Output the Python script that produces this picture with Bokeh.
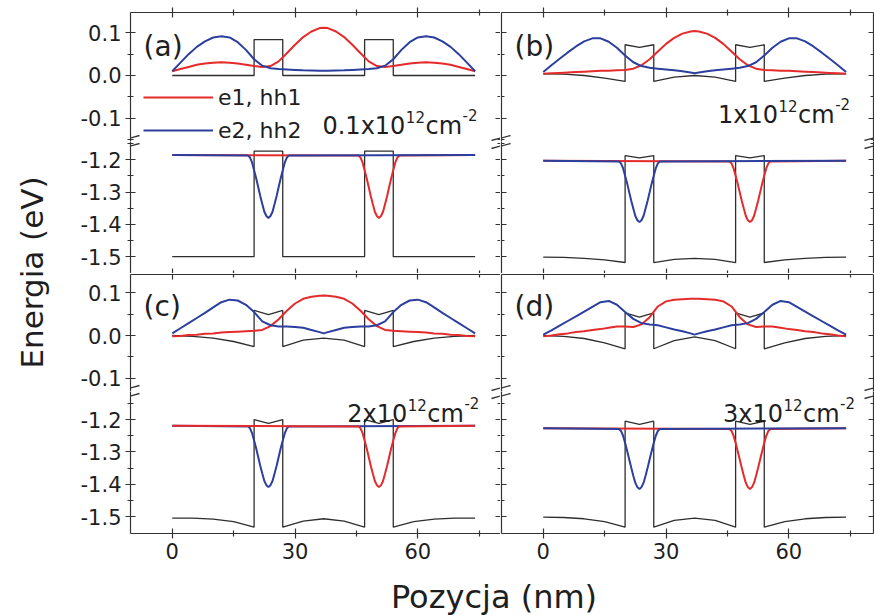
from bokeh.plotting import figure
from bokeh.models import Range1d, LinearAxis, FixedTicker, Label, Legend, LegendItem, Arrow
from bokeh.layouts import row, column
from bokeh.embed import file_html
from bokeh.resources import INLINE

# ---------------- data ----------------
X_TICKS = [0, 30, 60]
X_TICK_LABELS = ["0", "30", "60"]
X_MINOR = [15, 45, 75]
YU_TICKS = [-0.1, 0.0, 0.1]
YU_LABELS = ["-0.1", "0.0", "0.1"]
YU_MINOR = [-0.15, -0.05, 0.05]
YL_TICKS = [-1.5, -1.4, -1.3, -1.2]
YL_LABELS = ["-1.5", "-1.4", "-1.3", "-1.2"]
YL_MINOR = [-1.45, -1.35, -1.25, -1.15]

PANELS = ["(a)", "(b)", "(c)", "(d)"]
DENSITY = ["0.1x10", "1x10", "2x10", "3x10"]
LEGEND = ["e1, hh1", "e2, hh2"]

# band edges (conduction: upper part, valence: lower part)
X_BAND = [0, 5, 10, 15, 20, 20, 23.5, 27, 27, 32, 37, 42, 47, 47, 50.5, 54, 54, 59, 64, 69, 74]
CB_A = [0, 0, 0, 0, 0, 0.084, 0.084, 0.084, 0, 0, 0, 0, 0, 0.084, 0.084, 0.084, 0, 0, 0, 0, 0]
VB_A = [-1.5, -1.5, -1.5, -1.5, -1.5, -1.173, -1.173, -1.173, -1.5, -1.5, -1.5, -1.5, -1.5,
        -1.173, -1.173, -1.173, -1.5, -1.5, -1.5, -1.5, -1.5]
CB_B = [0.004, 0.003, 0.0, -0.006, -0.014, 0.072, 0.066, 0.072, -0.014, -0.004, 0.0, -0.004, -0.014,
        0.072, 0.066, 0.072, -0.014, -0.006, 0.0, 0.003, 0.004]
VB_B = [-1.501, -1.502, -1.505, -1.510, -1.518, -1.187, -1.194, -1.187, -1.518, -1.508, -1.505, -1.508,
        -1.518, -1.187, -1.194, -1.187, -1.518, -1.510, -1.505, -1.502, -1.501]
CB_C = [0.0, -0.002, -0.006, -0.014, -0.026, 0.059, 0.049, 0.059, -0.026, -0.011, -0.006, -0.011, -0.026,
        0.059, 0.049, 0.059, -0.026, -0.014, -0.006, -0.002, 0.0]
VB_C = [-1.505, -1.505, -1.508, -1.516, -1.533, -1.200, -1.212, -1.200, -1.533, -1.514, -1.507, -1.514,
        -1.533, -1.200, -1.212, -1.200, -1.533, -1.516, -1.508, -1.505, -1.505]
CB_D = [0.0, -0.002, -0.007, -0.017, -0.031, 0.053, 0.043, 0.053, -0.031, -0.012, -0.003, -0.012, -0.031,
        0.053, 0.043, 0.053, -0.031, -0.017, -0.007, -0.002, 0.0]
VB_D = [-1.502, -1.503, -1.507, -1.516, -1.533, -1.205, -1.215, -1.205, -1.533, -1.512, -1.505, -1.512,
        -1.533, -1.205, -1.215, -1.205, -1.533, -1.516, -1.507, -1.503, -1.502]

# electron wavefunctions (upper part)
X_WF = [0, 2, 4, 6, 8, 10, 12, 14, 16, 18, 20, 22, 24, 26, 28, 30, 32, 34, 36, 37,
        38, 40, 42, 44, 46, 48, 50, 52, 54, 56, 58, 60, 62, 64, 66, 68, 70, 72, 74]
E1_A = [0.010, 0.015, 0.020, 0.025, 0.028, 0.030, 0.031, 0.030, 0.028, 0.025, 0.022, 0.020, 0.022, 0.033,
        0.052, 0.072, 0.090, 0.103, 0.111, 0.112,
        0.111, 0.103, 0.090, 0.072, 0.052, 0.033, 0.022, 0.020, 0.022, 0.025, 0.028, 0.030, 0.031, 0.030,
        0.028, 0.025, 0.020, 0.015, 0.010]
E2_A = [0.010, 0.030, 0.050, 0.067, 0.080, 0.089, 0.092, 0.089, 0.078, 0.060, 0.038, 0.023, 0.017, 0.015,
        0.014, 0.013, 0.012, 0.0115, 0.011, 0.011,
        0.011, 0.0115, 0.012, 0.013, 0.014, 0.015, 0.017, 0.023, 0.038, 0.060, 0.078, 0.089, 0.092, 0.089,
        0.080, 0.067, 0.050, 0.030, 0.010]
E1_B = [0.004, 0.005, 0.006, 0.007, 0.008, 0.009, 0.010, 0.011, 0.011, 0.012, 0.013, 0.016, 0.024, 0.038,
        0.056, 0.074, 0.088, 0.098, 0.103, 0.104,
        0.103, 0.098, 0.088, 0.074, 0.056, 0.038, 0.024, 0.016, 0.013, 0.012, 0.011, 0.011, 0.010, 0.009,
        0.008, 0.007, 0.006, 0.005, 0.004]
E2_B = [0.008, 0.024, 0.039, 0.054, 0.068, 0.080, 0.087, 0.087, 0.079, 0.065, 0.047, 0.031, 0.022, 0.018,
        0.016, 0.014, 0.012, 0.010, 0.007, 0.005,
        0.007, 0.010, 0.012, 0.014, 0.016, 0.018, 0.022, 0.031, 0.047, 0.065, 0.079, 0.087, 0.087, 0.080,
        0.068, 0.054, 0.039, 0.024, 0.008]
E1_C = [-0.002, -0.001, 0.001, 0.002, 0.004, 0.005, 0.007, 0.008, 0.009, 0.010, 0.011, 0.013, 0.022, 0.038,
        0.058, 0.075, 0.086, 0.091, 0.093, 0.094,
        0.093, 0.091, 0.086, 0.075, 0.058, 0.038, 0.022, 0.013, 0.011, 0.010, 0.009, 0.008, 0.007, 0.005,
        0.004, 0.002, 0.001, -0.001, -0.002]
E2_C = [0.005, 0.017, 0.029, 0.041, 0.053, 0.066, 0.078, 0.084, 0.082, 0.072, 0.055, 0.033, 0.024, 0.021,
        0.021, 0.020, 0.018, 0.013, 0.008, 0.005,
        0.008, 0.013, 0.018, 0.020, 0.021, 0.021, 0.024, 0.033, 0.055, 0.072, 0.082, 0.084, 0.078, 0.066,
        0.053, 0.041, 0.029, 0.017, 0.005]
E1_D = [-0.002, 0.000, 0.003, 0.005, 0.008, 0.010, 0.013, 0.015, 0.018, 0.021, 0.021, 0.020, 0.026, 0.043,
        0.068, 0.080, 0.084, 0.085, 0.086, 0.086,
        0.086, 0.085, 0.084, 0.080, 0.068, 0.043, 0.026, 0.020, 0.021, 0.021, 0.018, 0.015, 0.013, 0.010,
        0.008, 0.005, 0.003, 0.000, -0.002]
E2_D = [0.002, 0.012, 0.023, 0.034, 0.045, 0.056, 0.067, 0.078, 0.081, 0.072, 0.055, 0.039, 0.029, 0.026,
        0.024, 0.019, 0.014, 0.010, 0.005, 0.002,
        0.005, 0.010, 0.014, 0.019, 0.024, 0.026, 0.029, 0.039, 0.055, 0.072, 0.081, 0.078, 0.067, 0.056,
        0.045, 0.034, 0.023, 0.012, 0.002]

# hole wavefunctions (lower part): hh2 (blue) localised in well 1, hh1 (red) in well 2
X_HH2 = [0, 18.5, 19, 19.5, 20, 20.5, 21, 21.5, 22, 22.5, 23, 23.5, 24, 24.5, 25, 25.5, 26, 26.5, 27,
         27.5, 28, 28.5, 74]
X_HH1 = [0, 45.5, 46, 46.5, 47, 47.5, 48, 48.5, 49, 49.5, 50, 50.5, 51, 51.5, 52, 52.5, 53, 53.5, 54,
         54.5, 55, 55.5, 74]
HH_A = [-1.185, -1.187, -1.193, -1.208, -1.232, -1.257, -1.284, -1.312, -1.337, -1.361, -1.374, -1.380,
        -1.374, -1.361, -1.337, -1.312, -1.284, -1.257, -1.232, -1.208, -1.193, -1.187, -1.185]
HH_B = [-1.203, -1.205, -1.211, -1.226, -1.249, -1.273, -1.300, -1.327, -1.351, -1.374, -1.387, -1.393,
        -1.387, -1.374, -1.351, -1.327, -1.300, -1.273, -1.249, -1.226, -1.211, -1.205, -1.203]
HH_C = [-1.219, -1.221, -1.227, -1.242, -1.265, -1.289, -1.316, -1.343, -1.367, -1.390, -1.403, -1.409,
        -1.403, -1.390, -1.367, -1.343, -1.316, -1.289, -1.265, -1.242, -1.227, -1.221, -1.219]
HH_D = [-1.227, -1.229, -1.235, -1.250, -1.272, -1.297, -1.323, -1.349, -1.374, -1.396, -1.409, -1.415,
        -1.409, -1.396, -1.374, -1.349, -1.323, -1.297, -1.272, -1.250, -1.235, -1.229, -1.227]

# ---------------- style ----------------
FONT = "DejaVu Sans"
RED = "#e42a2a"
BLUE = "#2c3f9f"
BAND = "#2e2e2e"
AXC = "#333333"
TXT = "#1e1e1e"
ADV = {"0": .636, "1": .636, "2": .636, "3": .636, ".": .318, "x": .592, "c": .55, "m": .974, "-": .361}


def text_w(s, size):
    return sum(ADV[ch] for ch in s) * size


def make_fig(w, h, xr, yr, bl, br, bt, bb):
    p = figure(width=w, height=h, x_range=Range1d(*xr), y_range=Range1d(*yr),
               toolbar_location=None, output_backend="svg",
               x_axis_location=None, y_axis_location=None,
               min_border_left=bl, min_border_right=br, min_border_top=bt, min_border_bottom=bb)
    p.outline_line_color = None
    p.grid.visible = False
    return p


def add_axis(p, side, ticks, minor, labels=None, line=True, tin=5, tout=5):
    ax = LinearAxis(ticker=FixedTicker(ticks=ticks, minor_ticks=minor))
    ax.axis_line_color = AXC if line else None
    ax.axis_line_width = 1.2
    ax.major_tick_line_color = AXC
    ax.minor_tick_line_color = AXC
    ax.major_tick_line_width = 1.2
    ax.minor_tick_line_width = 1.2
    ax.major_tick_in = tin
    ax.major_tick_out = tout
    ax.minor_tick_in = 3 if tin else 0
    ax.minor_tick_out = 3 if tout else 0
    if labels:
        ax.major_label_overrides = {t: s for t, s in zip(ticks, labels)}
        ax.major_label_text_font = FONT
        ax.major_label_text_font_size = "21px"
        ax.major_label_text_color = TXT
        ax.major_label_standoff = 4
    else:
        # tick marks only: labels are not drawn at all
        ax.major_label_text_color = None
        ax.major_label_text_font_size = "1px"
        ax.major_label_standoff = 0
    p.add_layout(ax, side)


def break_marks(p, x, ya0, ya1, dx):
    p.add_layout(Arrow(end=None, x_start=x - dx, y_start=ya0, x_end=x + dx, y_end=ya1,
                       line_color=AXC, line_width=1.3))


def density(p, x, y, base):
    pieces = [(base, 0, 24), ("12", 9, 15), ("cm", 0, 24), ("-2", 11, 15)]
    off = 0.0
    for txt, dy, size in pieces:
        p.add_layout(Label(x=x, y=y, x_offset=off, y_offset=dy, text=txt, text_font=FONT,
                           text_font_size=f"{size}px", text_color=TXT, text_align="left",
                           text_baseline="alphabetic"))
        off += text_w(txt, size) + 0.5


def build_panel(is_left, is_top, cb, vb, e1, e2, hh, red_top, tag, dens, dxy):
    xr = (-10.2, 80.2) if is_left else (-10.2, 80.69)
    w = 432 if is_left else 374
    bl = 62 if is_left else 1
    br = 0 if is_left else 1
    if is_top:
        ur, lr = (-0.1546, 0.1475), (-1.552, -1.1433)
        hu, hl, btu, bbl = 141, 132, 12, 0
    else:
        ur, lr = (-0.1311, 0.1429), (-1.5526, -1.1130)
        hu, hl, btu, bbl = 118, 175, 1, 33
    up = make_fig(w, hu, xr, ur, bl, br, btu, 0)
    lo = make_fig(w, hl, xr, lr, bl, br, 0, bbl)

    # x axes
    add_axis(up, "above", X_TICKS, X_MINOR, line=True, tin=5, tout=5 if is_top else 0)
    if is_top:
        add_axis(lo, "below", X_TICKS, X_MINOR, line=False, tin=5, tout=0)
    else:
        add_axis(lo, "below", X_TICKS, X_MINOR, labels=X_TICK_LABELS, line=True, tin=5, tout=5)
    # y axes
    if is_left:
        add_axis(up, "left", YU_TICKS, YU_MINOR, labels=YU_LABELS, line=True, tin=5, tout=5)
        add_axis(lo, "left", YL_TICKS, YL_MINOR, labels=YL_LABELS, line=True, tin=5, tout=5)
        add_axis(up, "right", YU_TICKS, YU_MINOR, line=False, tin=5, tout=0)
        add_axis(lo, "right", YL_TICKS, YL_MINOR, line=False, tin=5, tout=0)
    else:
        add_axis(up, "left", YU_TICKS, YU_MINOR, line=True, tin=5, tout=0)
        add_axis(lo, "left", YL_TICKS, YL_MINOR, line=True, tin=5, tout=0)
        add_axis(up, "right", YU_TICKS, YU_MINOR, line=True, tin=5, tout=0)
        add_axis(lo, "right", YL_TICKS, YL_MINOR, line=True, tin=5, tout=0)

    # curves
    up.line(X_BAND, cb, line_color=BAND, line_width=1.3)
    r1 = up.line(X_WF, e1, line_color=RED, line_width=2)
    r2 = up.line(X_WF, e2, line_color=BLUE, line_width=2)
    lo.line(X_BAND, vb, line_color=BAND, line_width=1.3)
    if red_top:
        lo.line(X_HH2, hh, line_color=BLUE, line_width=2)
        lo.line(X_HH1, hh, line_color=RED, line_width=2)
    else:
        lo.line(X_HH1, hh, line_color=RED, line_width=2)
        lo.line(X_HH2, hh, line_color=BLUE, line_width=2)

    # break marks on both vertical edges
    pu = (ur[1] - ur[0]) / (hu - btu)
    pl = (lr[1] - lr[0]) / (hl - bbl)
    for xe in xr:
        break_marks(up, xe, ur[0] + 1 * pu, ur[0] + 6 * pu, 2.2)
        break_marks(lo, xe, lr[1] - 7 * pl, lr[1] - 2 * pl, 2.2)

    up.add_layout(Label(x=-7.0, y=0.068, text=tag, text_font=FONT, text_font_size="28px",
                        text_color=TXT, text_align="left", text_baseline="alphabetic"))
    target = up if is_top else lo
    density(target, dxy[0], dxy[1], dens)
    return up, lo, r1, r2


a_up, a_lo, ra1, ra2 = build_panel(True, True, CB_A, VB_A, E1_A, E2_A, HH_A, False,
                                   PANELS[0], DENSITY[0], (36.7, -0.1185))
b_up, b_lo, _, _ = build_panel(False, True, CB_B, VB_B, E1_B, E2_B, HH_B, False,
                               PANELS[1], DENSITY[1], (42.7, -0.0937))
c_up, c_lo, _, _ = build_panel(True, False, CB_C, VB_C, E1_C, E2_C, HH_C, True,
                               PANELS[2], DENSITY[2], (42.75, -1.1836))
d_up, d_lo, _, _ = build_panel(False, False, CB_D, VB_D, E1_D, E2_D, HH_D, False,
                               PANELS[3], DENSITY[3], (43.9, -1.1836))

leg = Legend(items=[LegendItem(label=LEGEND[0], renderers=[ra1]),
                    LegendItem(label=LEGEND[1], renderers=[ra2])],
             location=(13, -2), orientation="vertical", glyph_width=70, glyph_height=26,
             label_height=26, label_standoff=5, spacing=7, padding=0, margin=0,
             border_line_color=None, background_fill_alpha=0,
             label_text_font=FONT, label_text_font_size="22px", label_text_color=TXT)
a_up.add_layout(leg)

# axis titles
ylab = make_fig(68, 566, (0, 68), (0, 566), 0, 0, 0, 0)
ylab.add_layout(Label(x=31, y=294, text="Energia (eV)", angle=90, angle_units="deg",
                      text_font=FONT, text_font_size="31px", text_color=TXT,
                      text_align="center", text_baseline="middle"))
xlab = make_fig(874, 49, (0, 874), (0, 49), 0, 0, 0, 0)
xlab.add_layout(Label(x=493.5, y=19, text="Pozycja (nm)", text_font=FONT, text_font_size="32px",
                      text_color=TXT, text_align="center", text_baseline="middle"))

grid = row(ylab, column(a_up, a_lo, c_up, c_lo), column(b_up, b_lo, d_up, d_lo))
layout = column(grid, xlab)

open("out.html", "w").write(file_html(layout, INLINE))
